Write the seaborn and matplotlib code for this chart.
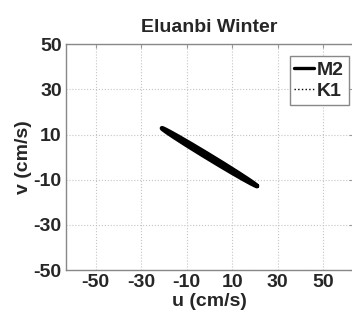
import numpy as np
import pandas as pd
import seaborn as sns
import matplotlib.pyplot as plt

# tidal ellipse parameters (cm/s, degrees)
constituents = ['M2', 'K1']
major_axis = [24.5, 14.0]
minor_axis = [-0.8, 0.3]
inclination = [-31.5, -31.5]
line_styles = ['-', ':']
line_widths = [3.2, 1.0]

ticks = [-50, -30, -10, 10, 30, 50]

sns.set_style('white')
plt.rcParams['font.family'] = ['Liberation Sans', 'DejaVu Sans']
plt.rcParams['font.weight'] = 'bold'
plt.rcParams['axes.unicode_minus'] = False

fig = plt.figure(figsize=(3.52, 3.20), dpi=100)
ax = fig.add_axes([0.1875, 0.156, 0.815, 0.706])

t = np.linspace(0, 2 * np.pi, 200)
for name, a, b, inc, ls, lw in zip(constituents, major_axis, minor_axis,
                                   inclination, line_styles, line_widths):
    th = np.deg2rad(inc)
    u = a * np.cos(t) * np.cos(th) - b * np.sin(t) * np.sin(th)
    v = a * np.cos(t) * np.sin(th) + b * np.sin(t) * np.cos(th)
    df = pd.DataFrame({'u': u, 'v': v})
    sns.lineplot(data=df, x='u', y='v', sort=False, estimator=None, ax=ax,
                 color='black', linestyle=ls, linewidth=lw, label=name)

ax.set_xlim(-63, 63)
ax.set_ylim(-50, 50)
ax.set_xticks(ticks)
ax.set_yticks(ticks)
ax.grid(True, linestyle=':', color='#c4c4c4', linewidth=0.8)
ax.tick_params(direction='in', top=True, right=True, length=3, color='#999999',
               labelsize=14, pad=3)
for lab in ax.get_xticklabels() + ax.get_yticklabels():
    lab.set_fontweight('bold')
for sp in ax.spines.values():
    sp.set_color('#888888')
    sp.set_linewidth(1.0)

ax.set_xlabel('u (cm/s)', fontsize=14, fontweight='bold', labelpad=1)
ax.set_ylabel('v (cm/s)', fontsize=14, fontweight='bold', labelpad=1)
ax.set_title('Eluanbi Winter', fontsize=14, fontweight='bold', pad=9)

leg = ax.legend(loc='upper left', bbox_to_anchor=(0.795, 0.855),
                bbox_transform=fig.transFigure, fontsize=14,
                handlelength=1.0, handletextpad=0.15, borderpad=0.25,
                labelspacing=0.2, fancybox=False, framealpha=1,
                edgecolor='#888888')
for txt in leg.get_texts():
    txt.set_fontweight('bold')
for h in leg.get_lines():
    if h.get_linestyle() == '-':
        h.set_linewidth(2.4)

fig.savefig('out.png', dpi=100)
